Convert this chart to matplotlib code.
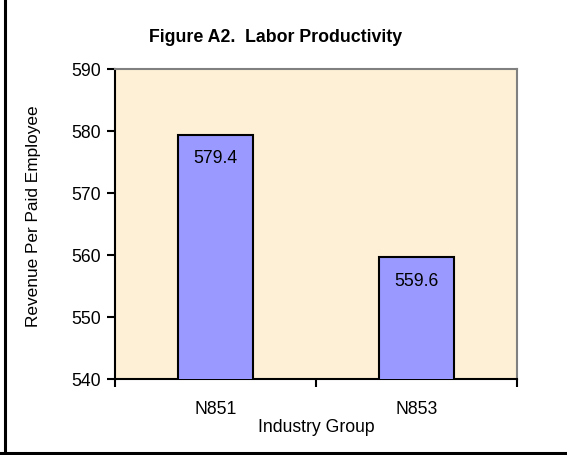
import matplotlib.pyplot as plt
from matplotlib.lines import Line2D

# data
groups = ["N851", "N853"]
values = [579.4, 559.6]
y_ticks = [540, 550, 560, 570, 580, 590]

plt.rcParams["font.family"] = ["Liberation Sans", "DejaVu Sans"]

fig = plt.figure(figsize=(5.67, 4.56), dpi=100)
ax = fig.add_axes([0.2028, 0.1667, 0.709, 0.6798])
ax.set_facecolor("#FDF0D6")

x = list(range(len(groups)))
bars = ax.bar(x, values, width=0.37, color="#9999FF", edgecolor="black",
              linewidth=1.5, zorder=3)

for b, v in zip(bars, values):
    ax.annotate(f"{v:.1f}", (b.get_x() + b.get_width() / 2, v),
                xytext=(0, -23), textcoords="offset pixels",
                ha="center", va="center", fontsize=12.7)

ax.set_xlim(-0.5, len(groups) - 0.5)
ax.set_ylim(y_ticks[0], y_ticks[-1])
ax.set_yticks(y_ticks)
ax.set_yticklabels([str(t) for t in y_ticks], fontsize=12.7)

# category labels without marks, marks on category boundaries
ax.set_xticks(x)
ax.set_xticklabels(groups, fontsize=12.7)
ax.tick_params(axis="x", which="major", length=0, pad=15)
ax.set_xticks([i - 0.5 for i in range(len(groups) + 1)], minor=True)
ax.tick_params(axis="x", which="minor", length=6, width=1.5, direction="out")
ax.tick_params(axis="y", length=6, width=1.5, pad=4)

for s in ["left", "bottom"]:
    ax.spines[s].set_color("black")
    ax.spines[s].set_linewidth(1.5)
for s in ["top", "right"]:
    ax.spines[s].set_color("#808080")
    ax.spines[s].set_linewidth(1.5)

ax.set_xlabel("Industry Group", fontsize=12.7, labelpad=1)
ax.set_ylabel("Revenue Per Paid Employee", fontsize=12.4)
# label centre sits a little above the axes centre in the reference
ax.yaxis.set_label_coords(-0.183, 0.53)

fig.text(276 / 567, 1 - 38 / 456, "Figure A2.  Labor Productivity",
         ha="center", va="center", fontsize=12.8, fontweight="bold")

# outer frame (left and bottom edges visible)
fig.add_artist(Line2D([5 / 567, 5 / 567], [0, 1], color="black", linewidth=2.2,
                      transform=fig.transFigure))
fig.add_artist(Line2D([0, 1], [2 / 456, 2 / 456], color="black", linewidth=2.2,
                      transform=fig.transFigure))

fig.savefig("out.png", dpi=100)
